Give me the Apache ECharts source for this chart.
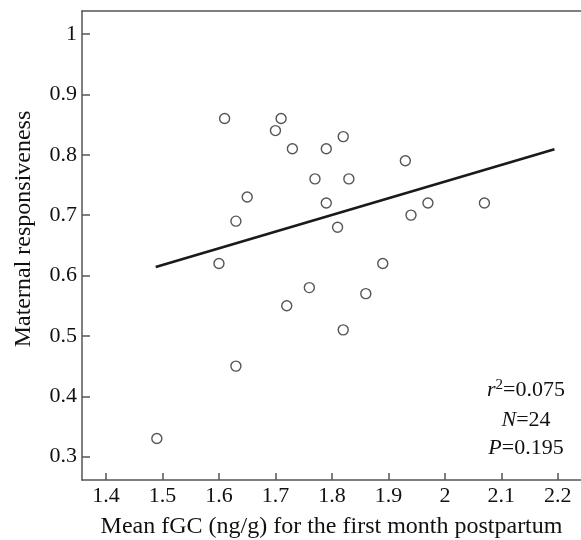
<!DOCTYPE html>
<html>
<head>
<meta charset="utf-8">
<script src="https://cdn.jsdelivr.net/npm/echarts@6/dist/echarts.min.js"></script>
<style>html,body{margin:0;padding:0;background:#fff}#c{width:581px;height:540px}</style>
</head>
<body>
<div id="c"></div>
<script>
// Data
const fgc = [1.49, 1.60, 1.61, 1.63, 1.63, 1.65, 1.70, 1.71, 1.72, 1.73, 1.76, 1.77,
             1.79, 1.79, 1.81, 1.82, 1.82, 1.83, 1.86, 1.89, 1.93, 1.94, 1.97, 2.07];
const resp = [0.33, 0.62, 0.86, 0.69, 0.45, 0.73, 0.84, 0.86, 0.55, 0.81, 0.58, 0.76,
              0.81, 0.72, 0.68, 0.83, 0.51, 0.76, 0.57, 0.62, 0.79, 0.70, 0.72, 0.72];
const fitX = [1.488, 2.194];
const fitY = [0.614, 0.809];
const xTicks = [1.4, 1.5, 1.6, 1.7, 1.8, 1.9, 2, 2.1, 2.2];
const yTicks = [0.3, 0.4, 0.5, 0.6, 0.7, 0.8, 0.9, 1];
const stats = { r2: '0.075', n: '24', p: '0.195' };

const FONT = '"Liberation Serif", "DejaVu Serif", serif';
const FS = 22;
const TS = 24;
const chart = echarts.init(document.getElementById('c'), null, { renderer: 'canvas' });
const axisLineStyle = { color: '#555', width: 1.5 };

chart.setOption({
  animation: false,
  backgroundColor: '#fff',
  grid: { left: 82, top: 11, right: 0, bottom: 60, containLabel: false, outerBoundsMode: 'none' },
  xAxis: [{
    type: 'value', min: 1.3575, max: 2.241,
    axisLine: { show: true, onZero: false, lineStyle: axisLineStyle },
    axisTick: { show: true, inside: true, length: 7, customValues: xTicks, lineStyle: axisLineStyle },
    axisLabel: { customValues: xTicks, fontFamily: FONT, fontSize: FS, color: '#111', margin: 5,
                 formatter: v => String(+v.toFixed(1)) },
    splitLine: { show: false },
    name: 'Mean fGC (ng/g) for the first month postpartum',
    nameLocation: 'middle', nameGap: 35,
    nameTextStyle: { fontFamily: FONT, fontSize: TS, color: '#111' }
  }, {
    type: 'value', position: 'top', min: 1.3575, max: 2.241,
    axisLine: { show: true, onZero: false, lineStyle: axisLineStyle },
    axisTick: { show: false }, axisLabel: { show: false }, splitLine: { show: false }
  }],
  yAxis: {
    type: 'value', min: 0.2614, max: 1.038,
    axisLine: { show: true, onZero: false, lineStyle: axisLineStyle },
    axisTick: { show: true, inside: true, length: 8, customValues: yTicks, lineStyle: axisLineStyle },
    axisLabel: { customValues: yTicks, fontFamily: FONT, fontSize: FS, color: '#111', margin: 5,
                 formatter: v => String(+v.toFixed(1)) },
    splitLine: { show: false }
  },
  graphic: [
    { type: 'text', x: 24, y: 229, rotation: Math.PI / 2,
      style: { text: 'Maternal responsiveness', font: TS + 'px ' + FONT, fill: '#111',
               textAlign: 'center', textVerticalAlign: 'middle' } },
    { type: 'text', x: 526, y: 390,
      style: { text: '{i|r}{s|2}{n|=' + stats.r2 + '}', textAlign: 'center', textVerticalAlign: 'middle',
        rich: { i: { font: 'italic ' + FS + 'px ' + FONT, fill: '#111' },
                s: { font: '15px ' + FONT, fill: '#111', verticalAlign: 'top', padding: [0,0,10,0] },
                n: { font: FS + 'px ' + FONT, fill: '#111' } } } },
    { type: 'text', x: 526, y: 420,
      style: { text: '{i|N}{n|=' + stats.n + '}', textAlign: 'center', textVerticalAlign: 'middle',
        rich: { i: { font: 'italic ' + FS + 'px ' + FONT, fill: '#111' }, n: { font: FS + 'px ' + FONT, fill: '#111' } } } },
    { type: 'text', x: 526, y: 448,
      style: { text: '{i|P}{n|=' + stats.p + '}', textAlign: 'center', textVerticalAlign: 'middle',
        rich: { i: { font: 'italic ' + FS + 'px ' + FONT, fill: '#111' }, n: { font: FS + 'px ' + FONT, fill: '#111' } } } }
  ],
  series: [{
    type: 'line', data: fitX.map((x, i) => [x, fitY[i]]),
    symbol: 'none', lineStyle: { color: '#1a1a1a', width: 2.6 }, z: 2
  }, {
    type: 'scatter', data: fgc.map((x, i) => [x, resp[i]]),
    symbol: 'circle', symbolSize: 10,
    itemStyle: { color: '#fff', borderColor: '#2a2a2a', borderWidth: 1.4 }, z: 3
  }]
});
</script>
</body>
</html>
